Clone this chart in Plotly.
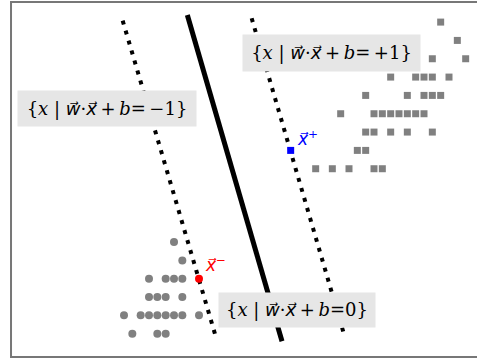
import plotly.graph_objects as go

# grid units: x step ~8.33px, y step ~18.33px
neg_x = [7, 8, 4, 6, 7, 8, 4, 5, 6, 8, 1, 3, 4, 5, 6, 7, 8, 10, 2, 5, 6]
neg_y = [6, 5, 4, 4, 4, 4, 3, 3, 3, 3, 2, 2, 2, 2, 2, 2, 2, 2, 1, 1, 1]

pos_x = [39, 41, 38, 42, 33, 36, 37, 38, 40, 30, 35, 37, 38, 39,
         27, 31, 32, 33, 34, 35, 36, 37, 30, 31, 33, 35, 38, 29, 30,
         24, 26, 28, 31, 32]
pos_y = [18, 17, 16, 16, 15, 15, 15, 15, 15, 14, 14, 14, 14, 14,
         13, 13, 13, 13, 13, 13, 13, 13, 12, 12, 12, 12, 12, 11, 11,
         10, 10, 10, 10, 10]

sv_neg = (10, 4)
sv_pos = (21, 11)

# hyperplane end points
line_mid = ([8.6, 19.96], [18.39, 0.585])
line_neg = ([0.84, 12.04], [18.08, 0.80])
line_pos = ([16.32, 27.44], [18.21, 0.91])

fig = go.Figure()

for lx, ly in [line_neg, line_pos]:
    fig.add_trace(go.Scatter(x=lx, y=ly, mode="lines",
                             line=dict(color="black", width=4, dash="4px,6.4px")))
fig.add_trace(go.Scatter(x=line_mid[0], y=line_mid[1], mode="lines",
                         line=dict(color="black", width=5)))

fig.add_trace(go.Scatter(x=neg_x, y=neg_y, mode="markers",
                         marker=dict(symbol="circle", size=8, color="#808080")))
fig.add_trace(go.Scatter(x=pos_x, y=pos_y, mode="markers",
                         marker=dict(symbol="square", size=7, color="#808080")))
fig.add_trace(go.Scatter(x=[sv_neg[0]], y=[sv_neg[1]], mode="markers",
                         marker=dict(symbol="circle", size=8, color="#ff0000")))
fig.add_trace(go.Scatter(x=[sv_pos[0]], y=[sv_pos[1]], mode="markers",
                         marker=dict(symbol="square", size=7, color="#0000ff")))

font = dict(family="DejaVu Serif", size=18, color="black")


def vec(s):
    return "<span style='font-family:DejaVu Sans'><i>" + s + "\u20d7</i></span>"


th = "\u2009"
body = "{<i>x</i> | " + vec("w") + "·" + vec("x") + th + "+" + th + "<i>b</i>"

labels = [
    (-1.02, 13.30, body + "=" + th + "−1}", 178, 35),
    (25.93, 16.32, body + "=" + th + "+1}", 177, 36),
    (21.7, 2.28, body + "=0}", 156, 34),
]
for ax, ay, txt, w, h in labels:
    fig.add_annotation(x=ax, y=ay, text=txt, showarrow=False, font=font,
                       bgcolor="#e6e6e6", width=w, height=h, borderpad=0,
                       xanchor="center", yanchor="middle")

fig.add_annotation(x=22.96, y=11.67, text=vec("x") + "<sup>+</sup>", showarrow=False,
                   font=dict(family="DejaVu Serif", size=17, color="#0000ff"))
fig.add_annotation(x=11.98, y=4.78, text=vec("x") + "<sup>−</sup>", showarrow=False,
                   font=dict(family="DejaVu Serif", size=17, color="#ff0000"))

# frame (right side runs off the picture)
fig.add_shape(type="path", xref="paper", yref="paper",
              path="M 1.1,0.9944 L 0.0231,0.9944 L 0.0231,0.0028 L 1.1,0.0028",
              line=dict(color="#777777", width=2))

fig.update_xaxes(range=[-13.88, 43.36], visible=False)
fig.update_yaxes(range=[-0.326, 19.205], visible=False)
fig.update_layout(width=477, height=358, margin=dict(l=0, r=0, t=0, b=0),
                  plot_bgcolor="white", paper_bgcolor="white", showlegend=False)

fig.write_html("out.html", config={"displayModeBar": False},
               post_script="document.body.style.margin='0px';")
